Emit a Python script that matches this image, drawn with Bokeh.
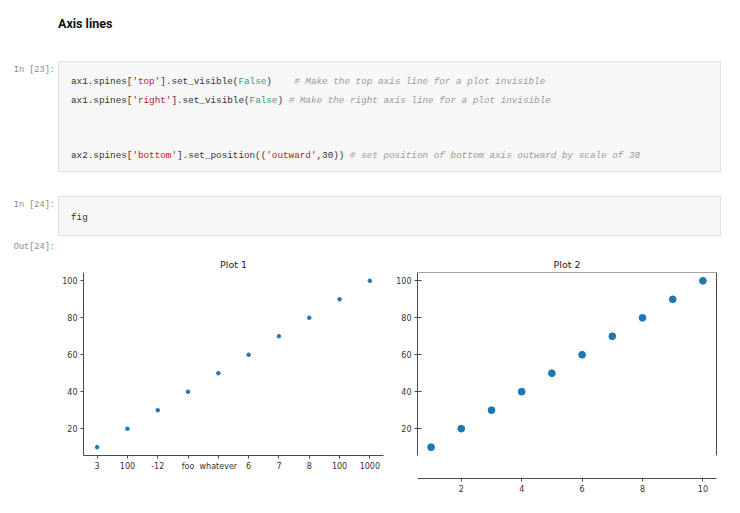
from bokeh.plotting import figure
from bokeh.models import Div, LinearAxis, FixedTicker, Span, ColumnDataSource
from bokeh.layouts import column, row
from bokeh.embed import file_html
from bokeh.resources import INLINE
import html as _html

# ---------------- data ----------------
x_vals = [1, 2, 3, 4, 5, 6, 7, 8, 9, 10]
y_vals = [10, 20, 30, 40, 50, 60, 70, 80, 90, 100]
plot1_xlabels = ["3", "100", "-12", "foo", "whatever", "6", "7", "8", "100", "1000"]
y_ticks = [20, 40, 60, 80, 100]
plot2_xticks = [2, 4, 6, 8, 10]
titles = ["Plot 1", "Plot 2"]

# ---------------- notebook text (HTML) ----------------
def tok(text, color=None, italic=False, bold=False):
    st = []
    if color:
        st.append("color:%s" % color)
    if italic:
        st.append("font-style:italic")
    if bold:
        st.append("font-weight:bold")
    return '<span style="%s">%s</span>' % (";".join(st), _html.escape(text, quote=False))

STR = "#ba2121"
KW = "#3a9a78"
CM = "#9a9a9a"

code_lines = [
    tok("ax1.spines[") + tok("'top'", STR) + tok("].set_visible(") + tok("False", KW) + tok(")    ")
    + tok("# Make the top axis line for a plot invisible", CM, italic=True),
    tok("ax1.spines[") + tok("'right'", STR) + tok("].set_visible(") + tok("False", KW) + tok(") ")
    + tok("# Make the right axis line for a plot invisible", CM, italic=True),
    "",
    "",
    tok("ax2.spines[") + tok("'bottom'", STR) + tok("].set_position((") + tok("'outward'", STR)
    + tok(",30)) ") + tok("# set position of bottom axis outward by scale of 30", CM, italic=True),
]

mono = "font-family:'Liberation Mono',monospace;font-size:9.3px;line-height:18.5px;color:#333;"
prompt = ("position:absolute;left:0px;width:55px;font-family:'Liberation Mono',monospace;"
          "font-size:8.6px;line-height:12px;color:#8a8a8a;text-align:right;")
cellbox = "position:absolute;left:58px;width:663px;background:#f7f7f7;border:1px solid #e2e2e2;"

TOP_H = 252
top_html = (
    '<div style="position:relative;width:735px;height:%dpx;background:#fff;">' % TOP_H
    + '<div style="position:absolute;left:58px;top:16px;font-family:Roboto,sans-serif;font-weight:bold;'
      'font-size:12.5px;line-height:16px;color:#111;">Axis lines</div>'
    + '<div style="%stop:64px;">In&nbsp;[23]:</div>' % prompt
    + '<div style="%stop:61px;height:111px;"></div>' % cellbox
    + '<pre style="position:absolute;left:71px;top:73px;margin:0;%s">%s</pre>' % (mono, "\n".join(code_lines))
    + '<div style="%stop:199px;">In&nbsp;[24]:</div>' % prompt
    + '<div style="%stop:196px;height:40px;"></div>' % cellbox
    + '<pre style="position:absolute;left:71px;top:209px;margin:0;%s">fig</pre>' % mono
    + '<div style="%stop:241px;">Out[24]:</div>' % prompt
    + '</div>'
)
top_div = Div(text=top_html, width=735, height=TOP_H, margin=0)

# ---------------- plots ----------------
BLUE = "#1f77b4"
AX = "#4a4a4a"
LBL = "#333333"
x_lo, x_hi = 0.55, 10.45
y_lo, y_hi = 5.5, 104.5
TOP = 20
BOTTOM = 25
FRAME_H1 = 183      # inner height of plot 1 axes
OUTWARD = 23        # px the bottom spine of plot 2 is moved outward


def style(p, title):
    p.title.text = title
    p.title.align = "center"
    p.title.text_font = "DejaVu Sans"
    p.title.text_font_size = "9.5px"
    p.title.text_font_style = "normal"
    p.title.text_color = "#222"
    p.title.standoff = 5
    p.xgrid.visible = False
    p.ygrid.visible = False
    p.outline_line_color = None
    p.background_fill_color = "white"
    p.border_fill_color = "white"
    for ax in p.axis:
        ax.axis_line_color = AX
        ax.axis_line_width = 1
        ax.major_tick_line_color = AX
        ax.minor_tick_line_color = None
        ax.major_tick_out = 3
        ax.major_tick_in = 0
        ax.major_label_text_font = "DejaVu Sans"
        ax.major_label_text_font_size = "8px"
        ax.major_label_text_color = LBL
        ax.major_label_standoff = 3


# Plot 1: top/right spines hidden, custom x tick labels
src = ColumnDataSource(dict(x=x_vals, y=y_vals))
p1 = figure(width=388, height=TOP + FRAME_H1 + BOTTOM, x_range=(x_lo, x_hi), y_range=(y_lo, y_hi),
            output_backend="svg", toolbar_location=None,
            min_border_left=83, min_border_right=5, min_border_top=TOP, min_border_bottom=BOTTOM)
p1.scatter("x", "y", source=src, size=3.6, color=BLUE)
style(p1, titles[0])
p1.xaxis.ticker = FixedTicker(ticks=x_vals)
p1.xaxis.major_label_overrides = {x: lab for x, lab in zip(x_vals, plot1_xlabels)}
p1.yaxis.ticker = FixedTicker(ticks=y_ticks)

# Plot 2: bottom spine moved outward
frame_h2 = FRAME_H1 + OUTWARD
units_per_px = (y_hi - y_lo) / FRAME_H1
y_lo2 = y_hi - frame_h2 * units_per_px

p2 = figure(width=338, height=TOP + frame_h2 + BOTTOM, x_range=(x_lo, x_hi), y_range=(y_lo2, y_hi),
            output_backend="svg", toolbar_location=None,
            min_border_left=29, min_border_right=10, min_border_top=TOP, min_border_bottom=BOTTOM)
p2.scatter("x", "y", source=src, size=6.8, color=BLUE)
right_ax = LinearAxis(ticker=FixedTicker(ticks=[]), bounds=(y_lo, y_hi))
p2.add_layout(right_ax, "right")
style(p2, titles[1])
right_ax.major_label_text_font_size = "0px"
right_ax.major_label_standoff = 0
right_ax.major_tick_out = 0
p2.yaxis[0].bounds = (y_lo, y_hi)
p2.yaxis[0].ticker = FixedTicker(ticks=y_ticks)
p2.yaxis[0].major_tick_in = 4
p2.xaxis.ticker = FixedTicker(ticks=plot2_xticks)
p2.add_layout(Span(location=y_hi, dimension="width", line_color=AX, line_width=1))

layout = column(top_div, row(p1, p2))

with open("out.html", "w") as f:
    f.write(file_html(layout, INLINE, "Axis lines"))
